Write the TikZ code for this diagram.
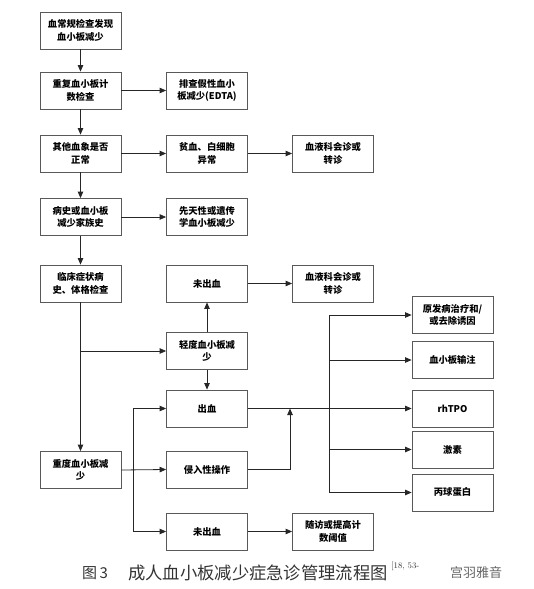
\documentclass[tikz,border=0pt]{standalone}
\usepackage{fontspec}
\newfontfamily\cjk{Noto Sans CJK SC}
\usetikzlibrary{arrows.meta}
\begin{document}
\begin{tikzpicture}[x=1pt,y=-1pt,
  box/.style={draw=black!65, line width=0.8pt, fill=white, minimum width=81pt, minimum height=37pt,
    inner sep=0pt, align=center, font=\cjk\bfseries\fontsize{9.3}{12.5}\selectfont},
  conn/.style={draw=black!85, line width=0.8pt},
  arr/.style={conn, -{Triangle[length=6.5pt,width=5.5pt]}}]
\useasboundingbox (0,0) rectangle (534,589);
% left column
\node[box] (n1) at (80.5,30.5) {血常规检查发现\\血小板减少};
\node[box] (n2) at (80.5,90.5) {重复血小板计\\数检查};
\node[box] (n3) at (80.5,153.5) {其他血象是否\\正常};
\node[box] (n4) at (80.5,217) {病史或血小板\\减少家族史};
\node[box] (n5) at (80.5,283.5) {临床症状病\\史、体格检查};
\node[box] (n6) at (80.5,470) {重度血小板减\\少};
% second column
\node[box] (r2) at (207,90.5) {排查假性血小\\板减少(EDTA)};
\node[box] (r3) at (207,153.5) {贫血、白细胞\\异常};
\node[box] (r4) at (207,217) {先天性或遗传\\学血小板减少};
\node[box] (u1) at (207,283.5) {未出血};
\node[box] (m) at (207,351) {轻度血小板减\\少};
\node[box] (b) at (207,408.5) {出血};
\node[box] (inv) at (207,469.5) {侵入性操作};
\node[box] (u2) at (207,531.5) {未出血};
% third column
\node[box] (h1) at (333,153.5) {血液科会诊或\\转诊};
\node[box] (h2) at (333,283.5) {血液科会诊或\\转诊};
\node[box] (f) at (333,531.5) {随访或提高计\\数阈值};
% right column
\node[box] (t1) at (452.5,315) {原发病治疗和/\\或去除诱因};
\node[box] (t2) at (452.5,360) {血小板输注};
\node[box] (t3) at (452.5,408.5) {rhTPO};
\node[box] (t4) at (452.5,449.5) {激素};
\node[box] (t5) at (452.5,492.5) {丙球蛋白};
% connectors
\draw[arr] (n1) -- (n2);
\draw[arr] (n2) -- (n3);
\draw[arr] (n3) -- (n4);
\draw[arr] (n4) -- (n5);
\draw[arr] (n5) -- (n6);
\draw[arr] (n2) -- (r2);
\draw[arr] (n3) -- (r3);
\draw[arr] (r3) -- (h1);
\draw[arr] (n4) -- (r4);
\coordinate (j1) at (80.5,351);
\draw[arr] (j1) -- (m);
\draw[arr] (m) -- (u1);
\draw[arr] (m) -- (b);
\draw[arr] (u1) -- (h2);
\draw[arr] (u2) -- (f);
% severe bus
\coordinate (lb1) at (133,408.5);
\coordinate (lb2) at (133,531.5);
\draw[arr] (n6.east) -- (inv.west);
\draw[conn] (lb1) -- (lb2);
\draw[arr] (lb1) -- (b);
\draw[arr] (lb2) -- (u2);
% bleeding to treatments
\draw[arr] (b) -- (t3);
\coordinate (ij) at (290,408.5);
\draw[arr] (inv.east) -| (ij);
\coordinate (rb1) at (329,315);
\coordinate (rb2) at (329,492.5);
\draw[conn] (rb1) -- (rb2);
\draw[arr] (rb1) -- (t1);
\draw[arr] (329,360) -- (t2);
\draw[arr] (329,449.5) -- (t4);
\draw[arr] (rb2) -- (t5);
% caption
\node[anchor=west, inner sep=0pt, text=black!80, font=\cjk\fontsize{15}{17}\selectfont] (cap1) at (82,573) {图\,3};
\node[anchor=west, inner sep=0pt, text=black!80, font=\cjk\fontsize{17.3}{19}\selectfont] (cap2) at (128,573) {成人血小板减少症急诊管理流程图};
\node[anchor=west, inner sep=0pt, text=black!80, font=\fontsize{8.5}{9}\selectfont] (cap3) at (391,566) {[18, 53-};
\node[anchor=west, inner sep=0pt, text=black!60, font=\cjk\fontsize{13}{15}\selectfont] (wm) at (450,573) {宫羽雅音};
\end{tikzpicture}
\end{document}
